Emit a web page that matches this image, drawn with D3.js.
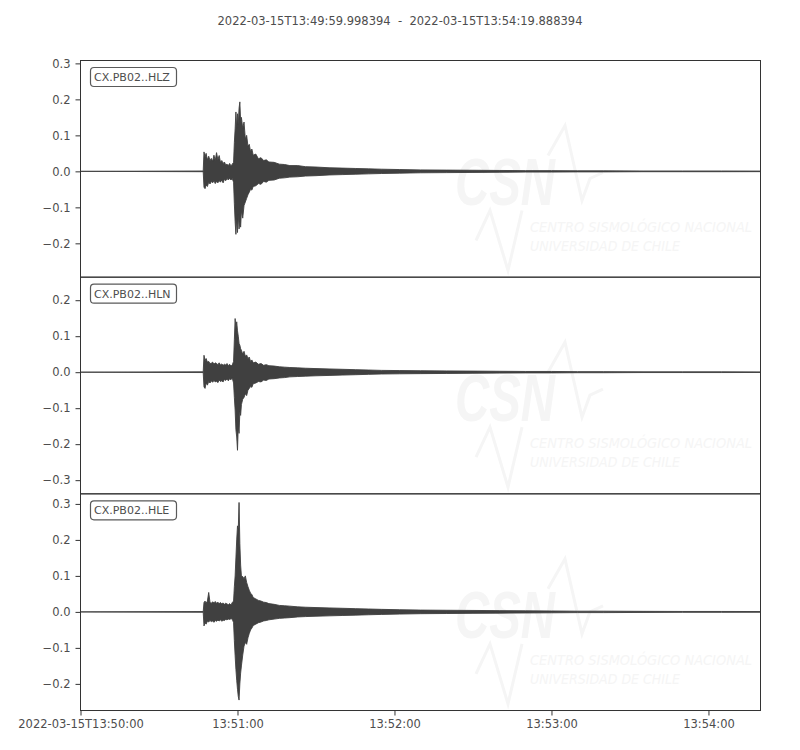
<!DOCTYPE html>
<html lang="en">
<head>
  <title>CX.PB02 waveforms</title>
  <meta charset="UTF-8" />
  <script src="https://cdn.jsdelivr.net/npm/d3@7"></script>
  <style>
    body { margin: 0; background: #fff; }
    svg text { font-family: "DejaVu Sans", sans-serif; fill: #4d4d4d; }
  </style>
</head>
<body>
<div id="chart"></div>
<script>
// seconds after 2022-03-15T13:49:59.998394
const times = [0, 46.9, 47.2, 47.6, 48, 48.5, 49, 49.5, 50, 50.5,
  51, 51.5, 52, 52.5, 53, 53.5, 54, 54.5, 55, 55.5,
  56, 56.5, 57, 57.5, 58, 58.5, 58.8, 59.1, 59.4, 59.7,
  60, 60.3, 60.6, 60.9, 61.2, 61.5, 62, 62.5, 63, 63.5,
  64, 64.5, 65, 65.5, 66, 67, 68, 69, 70, 71,
  72, 74, 76, 78, 80, 83, 86, 90, 95, 100,
  105, 110, 115, 122, 130, 140, 150, 160, 170, 180,
  190, 200, 215, 230, 245, 259.89];

const hlzMax = [0, 0.001, 0.054, 0.040, 0.050, 0.032, 0.042, 0.030, 0.036, 0.028,
  0.045, 0.030, 0.052, 0.032, 0.044, 0.025, 0.030, 0.022, 0.026, 0.018,
  0.020, 0.016, 0.022, 0.015, 0.020, 0.025, 0.080, 0.118, 0.165, 0.120,
  0.160, 0.130, 0.175, 0.193, 0.140, 0.150, 0.120, 0.137, 0.090, 0.100,
  0.070, 0.075, 0.055, 0.062, 0.045, 0.048, 0.035, 0.038, 0.030, 0.032,
  0.026, 0.025, 0.020, 0.019, 0.016, 0.016, 0.013, 0.012, 0.010, 0.009,
  0.008, 0.007, 0.006, 0.005, 0.004, 0.0035, 0.003, 0.0025, 0.002, 0.002,
  0.0015, 0.0015, 0.001, 0.001, 0.001, 0.0008];
const hlzMin = [0, -0.001, -0.044, -0.048, -0.038, -0.042, -0.030, -0.035, -0.028, -0.032,
  -0.026, -0.034, -0.028, -0.032, -0.026, -0.030, -0.024, -0.032, -0.022, -0.026,
  -0.020, -0.024, -0.019, -0.024, -0.020, -0.030, -0.090, -0.140, -0.175, -0.130,
  -0.170, -0.120, -0.160, -0.140, -0.155, -0.110, -0.130, -0.095, -0.085, -0.075,
  -0.065, -0.058, -0.050, -0.052, -0.042, -0.040, -0.034, -0.036, -0.028, -0.030,
  -0.025, -0.024, -0.019, -0.018, -0.016, -0.015, -0.013, -0.012, -0.010, -0.009,
  -0.008, -0.007, -0.006, -0.005, -0.004, -0.0035, -0.003, -0.0025, -0.002, -0.002,
  -0.0015, -0.0015, -0.001, -0.001, -0.001, -0.0008];

const hlnMax = [0, 0.001, 0.047, 0.032, 0.038, 0.028, 0.030, 0.024, 0.025, 0.028,
  0.022, 0.026, 0.024, 0.021, 0.026, 0.020, 0.023, 0.019, 0.022, 0.020,
  0.024, 0.018, 0.022, 0.017, 0.020, 0.030, 0.090, 0.149, 0.120, 0.140,
  0.115, 0.100, 0.080, 0.075, 0.065, 0.061, 0.050, 0.058, 0.044, 0.048,
  0.038, 0.042, 0.030, 0.034, 0.026, 0.028, 0.022, 0.024, 0.019, 0.021,
  0.018, 0.017, 0.015, 0.014, 0.013, 0.012, 0.011, 0.010, 0.009, 0.008,
  0.007, 0.006, 0.005, 0.0045, 0.004, 0.0035, 0.003, 0.0025, 0.002, 0.002,
  0.0015, 0.0015, 0.001, 0.001, 0.001, 0.0008];
const hlnMin = [0, -0.001, -0.041, -0.045, -0.030, -0.036, -0.026, -0.030, -0.024, -0.028,
  -0.023, -0.027, -0.025, -0.029, -0.022, -0.026, -0.024, -0.027, -0.020, -0.023,
  -0.019, -0.024, -0.018, -0.021, -0.016, -0.030, -0.070, -0.105, -0.160, -0.180,
  -0.217, -0.150, -0.170, -0.110, -0.120, -0.090, -0.075, -0.070, -0.060, -0.065,
  -0.050, -0.045, -0.040, -0.042, -0.032, -0.030, -0.026, -0.027, -0.022, -0.023,
  -0.019, -0.018, -0.016, -0.015, -0.013, -0.012, -0.011, -0.010, -0.009, -0.008,
  -0.007, -0.006, -0.005, -0.0045, -0.004, -0.0035, -0.003, -0.0025, -0.002, -0.002,
  -0.0015, -0.0015, -0.001, -0.001, -0.001, -0.0008];

const hleMax = [0, 0.001, 0.026, 0.030, 0.024, 0.030, 0.054, 0.026, 0.024, 0.028,
  0.025, 0.029, 0.024, 0.027, 0.023, 0.026, 0.022, 0.025, 0.021, 0.024,
  0.022, 0.020, 0.023, 0.019, 0.026, 0.030, 0.070, 0.100, 0.150, 0.200,
  0.239, 0.230, 0.304, 0.190, 0.130, 0.100, 0.098, 0.092, 0.100, 0.082,
  0.070, 0.060, 0.052, 0.048, 0.040, 0.036, 0.032, 0.030, 0.027, 0.026,
  0.023, 0.021, 0.018, 0.017, 0.016, 0.014, 0.013, 0.012, 0.011, 0.010,
  0.009, 0.008, 0.007, 0.006, 0.005, 0.0045, 0.004, 0.0035, 0.003, 0.0025,
  0.002, 0.002, 0.0015, 0.0012, 0.0012, 0.001];
const hleMin = [0, -0.001, -0.039, -0.030, -0.034, -0.026, -0.028, -0.024, -0.027, -0.025,
  -0.029, -0.024, -0.026, -0.023, -0.025, -0.022, -0.026, -0.023, -0.024, -0.021,
  -0.022, -0.020, -0.021, -0.019, -0.020, -0.030, -0.080, -0.122, -0.160, -0.190,
  -0.215, -0.235, -0.245, -0.200, -0.170, -0.150, -0.120, -0.095, -0.085, -0.090,
  -0.072, -0.060, -0.050, -0.045, -0.038, -0.034, -0.030, -0.028, -0.025, -0.024,
  -0.022, -0.020, -0.018, -0.017, -0.016, -0.014, -0.013, -0.012, -0.011, -0.010,
  -0.009, -0.008, -0.007, -0.006, -0.005, -0.0045, -0.004, -0.0035, -0.003, -0.0025,
  -0.002, -0.002, -0.0015, -0.0012, -0.0012, -0.001];

const channels = ["CX.PB02..HLZ", "CX.PB02..HLN", "CX.PB02..HLE"];
const yDomains = [[-0.294, 0.308], [-0.338, 0.264], [-0.274, 0.328]];
const yTicks = [[-0.2, -0.1, 0, 0.1, 0.2, 0.3], [-0.3, -0.2, -0.1, 0, 0.1, 0.2], [-0.2, -0.1, 0, 0.1, 0.2, 0.3]];

const xTickValues = [0.001606, 60.001606, 120.001606, 180.001606, 240.001606];
const xTickLabels = ["2022-03-15T13:50:00", "13:51:00", "13:52:00", "13:53:00", "13:54:00"];
const title = "2022-03-15T13:49:59.998394  -  2022-03-15T13:54:19.888394";

const traces = [
  { max: hlzMax, min: hlzMin },
  { max: hlnMax, min: hlnMin },
  { max: hleMax, min: hleMin }
];

const W = 800, H = 750;
const plotLeft = 80.5, plotRight = 760.5, plotTop = 60.5, panelH = 216.67;
const ink = "#404040";
const faint = "#f5f5f5";

const svg = d3.select("#chart").append("svg")
  .attr("width", W)
  .attr("height", H);

svg.append("text")
  .attr("x", W / 2)
  .attr("y", 25)
  .attr("text-anchor", "middle")
  .style("font-size", "11.5px")
  .style("white-space", "pre")
  .text(title);

const x = d3.scaleLinear().domain([0, 259.89]).range([plotLeft, plotRight]);

traces.forEach((tr, i) => {
  const t0 = plotTop + i * panelH;
  const y = d3.scaleLinear().domain(yDomains[i]).range([t0 + panelH, t0]);
  const g = svg.append("g");

  g.append("clipPath").attr("id", "clip" + i)
    .append("rect")
    .attr("x", plotLeft).attr("y", t0)
    .attr("width", plotRight - plotLeft).attr("height", panelH);

  // faint CSN watermark
  const wm = g.append("g");
  wm.append("text")
    .attr("x", 455).attr("y", t0 + 144)
    .attr("textLength", 100).attr("lengthAdjust", "spacingAndGlyphs")
    .style("font-family", "Liberation Sans, sans-serif")
    .style("font-weight", "bold").style("font-style", "italic")
    .style("font-size", "66px")
    .style("fill", faint)
    .text("CSN");
  wm.append("path")
    .attr("d", `M548,${t0 + 95} L565,${t0 + 65} L582,${t0 + 140} L590,${t0 + 118} L603,${t0 + 112}
                M476,${t0 + 180} L490,${t0 + 150} L508,${t0 + 210} L522,${t0 + 150}`)
    .attr("fill", "none").attr("stroke", faint).attr("stroke-width", 3);
  wm.append("text")
    .attr("x", 530).attr("y", t0 + 171)
    .attr("textLength", 222).attr("lengthAdjust", "spacingAndGlyphs")
    .style("font-style", "italic").style("font-size", "13.5px").style("fill", faint)
    .text("CENTRO SISMOLÓGICO NACIONAL");
  wm.append("text")
    .attr("x", 530).attr("y", t0 + 190)
    .attr("textLength", 150).attr("lengthAdjust", "spacingAndGlyphs")
    .style("font-style", "italic").style("font-size", "13.5px").style("fill", faint)
    .text("UNIVERSIDAD DE CHILE");

  const data = times.map((t, k) => ({ t, hi: tr.max[k], lo: tr.min[k] }));
  const area = d3.area()
    .x(d => x(d.t))
    .y0(d => y(d.lo))
    .y1(d => y(d.hi));

  g.append("path")
    .datum(data)
    .attr("clip-path", `url(#clip${i})`)
    .attr("fill", ink)
    .attr("stroke", ink)
    .attr("stroke-width", 0.9)
    .attr("d", area);

  // frame
  g.append("rect")
    .attr("x", plotLeft).attr("y", t0)
    .attr("width", plotRight - plotLeft).attr("height", panelH)
    .attr("fill", "none").attr("stroke", "#333").attr("stroke-width", 1);

  const yAxis = g.append("g")
    .attr("transform", `translate(${plotLeft},0)`)
    .call(d3.axisLeft(y).tickValues(yTicks[i]).tickFormat(d3.format(".1f")).tickSize(5).tickPadding(5));
  yAxis.select(".domain").remove();
  yAxis.selectAll("line").attr("stroke", "#333");
  yAxis.selectAll("text").attr("font-family", null).attr("font-size", null)
    .style("font-size", "11.5px").attr("fill", null);

  // channel label
  g.append("rect")
    .attr("x", 90.5).attr("y", t0 + 7)
    .attr("width", 86).attr("height", 19).attr("rx", 3.5)
    .attr("fill", "#fff").attr("stroke", "#5a5a5a").attr("stroke-width", 1.2);
  g.append("text")
    .attr("x", 94).attr("y", t0 + 20.5)
    .style("font-size", "11px")
    .text(channels[i]);
});

const xAxis = svg.append("g")
  .attr("transform", `translate(0,${plotTop + 3 * panelH})`)
  .call(d3.axisBottom(x).tickValues(xTickValues)
    .tickFormat((d, k) => xTickLabels[k]).tickSize(5).tickPadding(4));
xAxis.select(".domain").remove();
xAxis.selectAll("line").attr("stroke", "#333");
xAxis.selectAll("text").attr("font-family", null).attr("font-size", null)
  .style("font-size", "11.5px").attr("fill", null);
</script>
</body>
</html>
